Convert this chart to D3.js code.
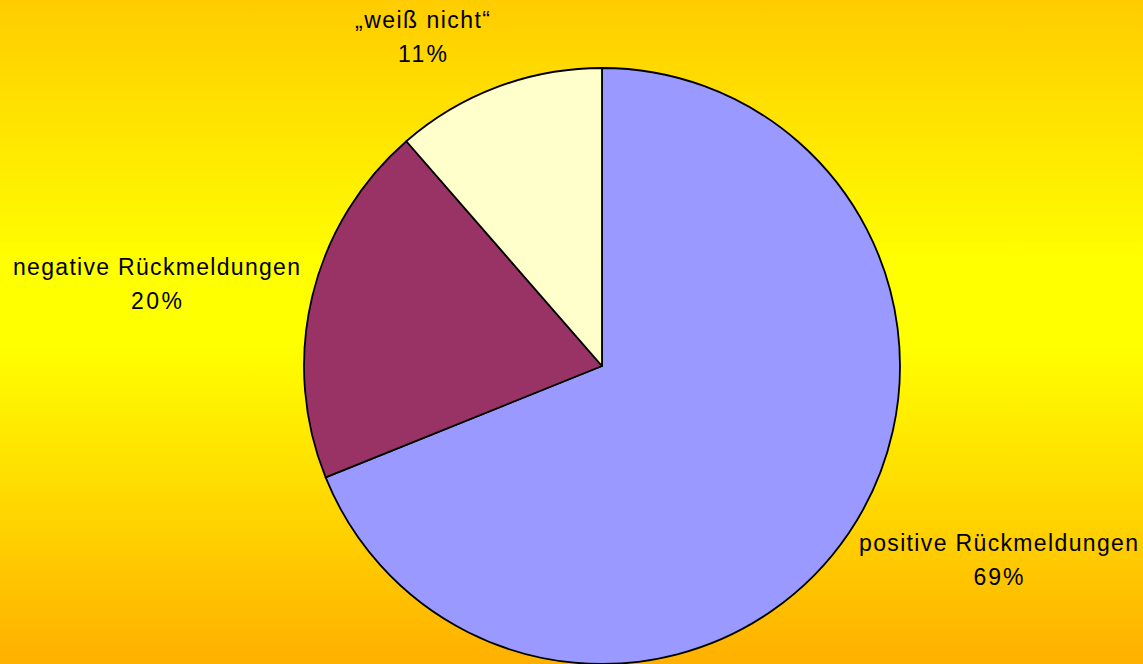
<!DOCTYPE html>
<html><head><meta charset="utf-8">
<script src="https://cdn.jsdelivr.net/npm/d3@7"></script>
<style>html,body{margin:0;padding:0;overflow:hidden;}svg{display:block;}</style>
</head><body>
<svg id="chart" width="1143" height="664"></svg>
<script>
const categories = ["positive Rückmeldungen", "negative Rückmeldungen", "„weiß nicht“"];
const values = [68.9, 19.7, 11.4];
const valueLabels = ["69%", "20%", "11%"];
const colors = ["#9999FF", "#993366", "#FFFFCC"];

const W = 1143, H = 664;
const svg = d3.select("#chart");
const defs = svg.append("defs");
const grad = defs.append("linearGradient").attr("id","bg").attr("x1",0).attr("y1",0).attr("x2",0).attr("y2",1);
[[0,"#FFCC00"],[0.4,"#FFFF00"],[0.52,"#FFFF00"],[1,"#FFB000"]].forEach(s=>grad.append("stop").attr("offset",s[0]).attr("stop-color",s[1]));
svg.append("rect").attr("width",W).attr("height",H).attr("fill","url(#bg)");

const cx = 602, cy = 366, r = 298;
const pie = d3.pie().sort(null).value(d=>d)(values);
const arc = d3.arc().innerRadius(0).outerRadius(r);
const g = svg.append("g").attr("transform",`translate(${cx},${cy})`);
g.selectAll("path").data(pie).join("path")
  .attr("d",arc).attr("fill",(d,i)=>colors[i])
  .attr("stroke","#000").attr("stroke-width",1.8).attr("stroke-linejoin","round");

const labelPos = [[998.5,551],[156.5,275],[422.5,28]];
const nameWidths = [279,287,135];
const valWidths = [50,51,49];
const lab = svg.append("g").attr("font-family","'Liberation Sans', Arial, sans-serif").attr("font-size",23).attr("fill","#000").attr("text-anchor","middle");
categories.forEach((c,i)=>{
  lab.append("text").attr("x",labelPos[i][0]).attr("y",labelPos[i][1])
    .attr("textLength",nameWidths[i]).attr("lengthAdjust","spacing").text(c);
  lab.append("text").attr("x",labelPos[i][0]).attr("y",labelPos[i][1]+34)
    .attr("textLength",valWidths[i]).attr("lengthAdjust","spacing").text(valueLabels[i]);
});
</script>
</body></html>
